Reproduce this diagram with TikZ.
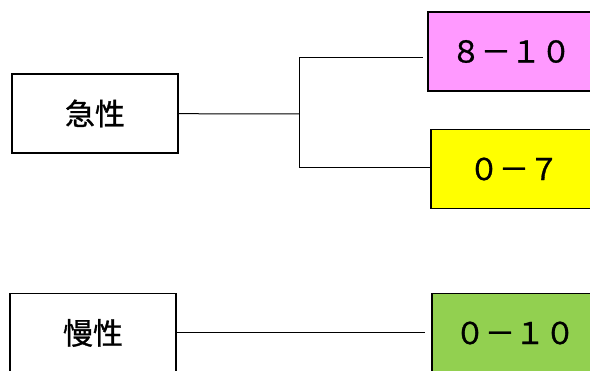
\documentclass[tikz,border=0pt]{standalone}
\usepackage{fontspec}
\setmainfont{Noto Sans CJK JP}[FakeBold=1]
\usepackage{tikz}
\usetikzlibrary{positioning}
\definecolor{pinkbox}{HTML}{FF99FF}
\definecolor{yellowbox}{HTML}{FFFF00}
\definecolor{greenbox}{HTML}{92D050}

\begin{document}
\begin{tikzpicture}[x = 1pt, y = -1pt,
		box/.style = {draw, line width = 1.4pt, minimum width = 166pt, minimum height = 79pt, inner sep = 0pt},
		jp/.style = {font = \fontsize{30}{34}\selectfont},
		num/.style = {font = \fontsize{30}{34}\selectfont},
		link/.style = {line width = 1pt}]
		\useasboundingbox (0,0) rectangle (590,371);
		\fill[white] (0,0) rectangle (590,371);
		\node (acute) [box, jp] at (95,113.5) {急性};
		\node (chronic) [box, jp] at (93,333) {慢性};
		\node (high) [box, num, fill = pinkbox] at (511,51.5) {８－１０};
		\node (low) [box, num, fill = yellowbox] at (514,169) {０－７};
		\node (all) [box, num, fill = greenbox] at (515,333) {０－１０};
		\coordinate (fork) at (299,114);
		\coordinate (forkTop) at (299,58);
		\coordinate (forkBot) at (299,168);
		\draw[link] (acute) -- (fork);
		\draw[link] (forkTop) -- (forkBot);
		\draw[link] (forkTop) -- ([xshift = -4pt]forkTop -| high.west);
		\draw[link] (forkBot) -- (forkBot -| low.west);
		\draw[link] (chronic) -- ([xshift = -6pt]all.west);
\end{tikzpicture}
\end{document}
